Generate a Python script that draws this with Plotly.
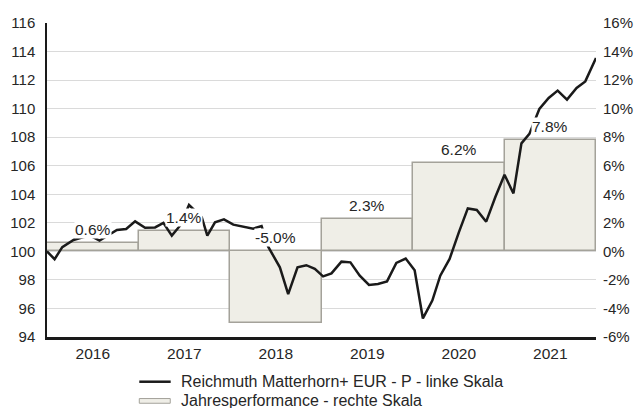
import plotly.graph_objects as go

# Fund price (left scale, start = 100), sampled as decimal years
pos = [2016.000, 2016.083, 2016.167, 2016.290, 2016.399, 2016.472, 2016.574, 2016.655,
       2016.764, 2016.865, 2016.963, 2017.072, 2017.181, 2017.272, 2017.364, 2017.454,
       2017.552, 2017.691, 2017.752, 2017.836, 2017.934, 2018.036, 2018.145, 2018.254,
       2018.345, 2018.417, 2018.545, 2018.636, 2018.738, 2018.834, 2018.927, 2019.017,
       2019.109, 2019.218, 2019.316, 2019.418, 2019.519, 2019.617, 2019.716, 2019.818,
       2019.920, 2020.018, 2020.108, 2020.211, 2020.298, 2020.400, 2020.501, 2020.599,
       2020.697, 2020.800, 2020.901, 2021.000, 2021.098, 2021.185, 2021.272, 2021.381,
       2021.483, 2021.581, 2021.683, 2021.788, 2021.883, 2022.000]
price = [100.00, 99.45, 100.30, 100.80, 101.00, 101.10, 100.75, 101.05,
         101.50, 101.57, 102.10, 101.65, 101.68, 102.00, 101.10, 101.80,
         103.25, 102.40, 101.10, 102.03, 102.24, 101.87, 101.73, 101.59,
         101.78, 100.33, 98.88, 97.00, 98.88, 99.03, 98.77, 98.25,
         98.46, 99.28, 99.23, 98.30, 97.65, 97.72, 97.90, 99.19,
         99.50, 98.68, 95.30, 96.55, 98.30, 99.47, 101.33, 103.01,
         102.90, 102.08, 103.83, 105.37, 104.06, 107.57, 108.23, 109.98,
         110.75, 111.26, 110.63, 111.45, 111.91, 113.55]

# Calendar-year performance (right scale, %)
years = [2016, 2017, 2018, 2019, 2020, 2021]
perf = [0.6, 1.4, -5.0, 2.3, 6.2, 7.8]

left_ticks = list(range(94, 117, 2))
right_ticks = list(range(-6, 17, 2))

line_name = "Reichmuth Matterhorn+ EUR - P - linke Skala"
bar_name = "Jahresperformance - rechte Skala"

FONT = "Arial, Liberation Sans, sans-serif"
TXT = "#262626"
LINE = "#1a1a1a"
BAR_FILL = "#efeee7"
BAR_EDGE = "#a4a29a"

centers = [y + 0.5 for y in years]

fig = go.Figure()

fig.add_trace(go.Bar(
    x=centers, y=perf, width=[1.0] * len(years), yaxis="y",
    marker=dict(color=BAR_FILL, line=dict(color=BAR_EDGE, width=1.5)),
    name=bar_name, showlegend=False, hoverinfo="skip",
))

fig.add_trace(go.Scatter(
    x=pos, y=price, yaxis="y2", mode="lines",
    line=dict(color=LINE, width=2.5),
    name=line_name, showlegend=False,
))

# value labels above each yearly bar
for c, v in zip(centers, perf):
    fig.add_annotation(
        x=c, y=max(v, 0), xref="x", yref="y", text=f"{v:.1f}%",
        showarrow=False, yanchor="middle", yshift=13.5,
        bgcolor="white", borderpad=0,
        font=dict(family=FONT, size=15.5, color=TXT),
    )

# legend drawn below the plot: swatch + label per series
fig.add_shape(type="line", xref="paper", yref="paper",
              x0=0.1681, x1=0.2253, y0=-0.1424, y1=-0.1424,
              line=dict(color=LINE, width=2.5))
fig.add_shape(type="rect", xref="paper", yref="paper",
              x0=0.1681, x1=0.2245, y0=-0.2110, y1=-0.1960,
              fillcolor=BAR_FILL, line=dict(color=BAR_EDGE, width=1))
for yy, label in [(-0.1424, line_name), (-0.2030, bar_name)]:
    fig.add_annotation(
        x=0.2405, y=yy, xref="paper", yref="paper", text=label,
        showarrow=False, xanchor="left", yanchor="middle",
        font=dict(family=FONT, size=16, color=TXT),
    )

fig.update_layout(
    width=634, height=408,
    margin=dict(l=47, r=38, t=23, b=71, autoexpand=False),
    paper_bgcolor="white", plot_bgcolor="white",
    font=dict(family=FONT, size=15, color=TXT),
    bargap=0, showlegend=False,
    xaxis=dict(
        range=[2016, 2022], tickmode="array",
        tickvals=centers, ticktext=[str(y) for y in years],
        tickfont=dict(size=15.5),
        showgrid=False, zeroline=False, showline=True,
        linecolor=LINE, linewidth=2.5, ticks="", ticklabelstandoff=1,
    ),
    yaxis=dict(
        side="right", range=[-6, 16], tickmode="array", tickvals=right_ticks,
        ticktext=[f"{t}%" for t in right_ticks],
        showgrid=True, gridcolor="#dadada", gridwidth=1,
        zeroline=False, showline=False, ticks="", ticklabelstandoff=6,
    ),
    yaxis2=dict(
        side="left", overlaying="y", range=[94, 116], tickmode="array",
        tickvals=left_ticks, showgrid=False, zeroline=False,
        showline=True, linecolor=LINE, linewidth=1.5, ticks="",
        ticklabelstandoff=7,
    ),
)

fig.write_html("out.html")
